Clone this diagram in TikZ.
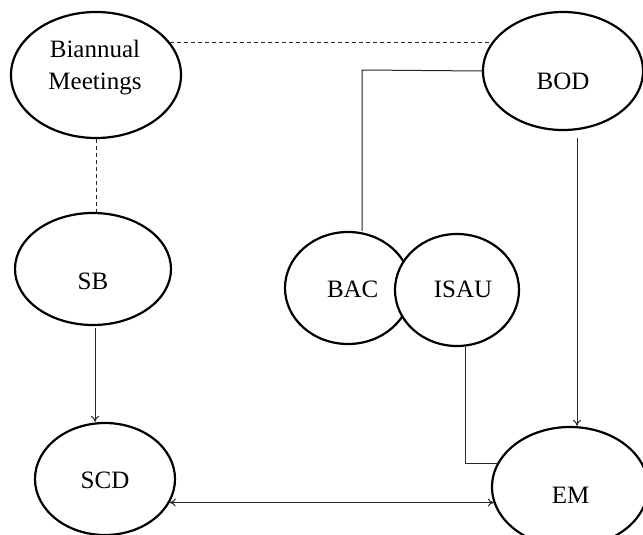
\documentclass[tikz,border=0pt]{standalone}
\usepackage{fontspec}
\setmainfont{Liberation Serif}
\usetikzlibrary{arrows.meta,shapes.geometric}
\begin{document}
\begin{tikzpicture}[x=1pt,y=-1pt,
  ell/.style={ellipse,draw=black,line width=2.2pt,fill=white,inner sep=0pt},
  lbl/.style={font=\fontsize{25}{32}\selectfont,inner sep=0pt,align=center},
  conn/.style={draw=black!85,line width=1pt},
  tip/.style={-{To[length=6pt,width=8pt]}},
  tips/.style={{To[length=6pt,width=8pt]}-{To[length=6pt,width=8pt]}}]
\useasboundingbox[fill=white] (0,0) rectangle (643,535);
% ellipses
\node[ell,minimum width=170pt,minimum height=126pt] (bm) at (96,75) {};
\node[ell,minimum width=160pt,minimum height=118pt] (bod) at (563,71) {};
\node[ell,minimum width=156pt,minimum height=112pt] (sb) at (93,269) {};
\node[ell,minimum width=126pt,minimum height=112pt] (bac) at (348,288) {};
\node[ell,minimum width=124pt,minimum height=112pt] (isau) at (457,290) {};
\node[ell,minimum width=140pt,minimum height=112pt] (scd) at (105,479) {};
\node[ell,minimum width=156pt,minimum height=120pt] (em) at (570,487) {};
% texts
\node[lbl] (bmt) at (95,68) {Biannual\\Meetings};
\node[lbl] (bodt) at (563,81.5) {BOD};
\node[lbl] (sbt) at (93,281) {SB};
\node[lbl] (bact) at (352.7,289.5) {BAC};
\node[lbl] (isaut) at (463,289.5) {ISAU};
\node[lbl] (scdt) at (105,480.5) {SCD};
\node[lbl] (emt) at (570.5,495.5) {EM};
% helper coordinates
\coordinate (k1) at (362,70);
\coordinate (k2) at (577,138);
\coordinate (k3) at (465,463);
\coordinate (k4) at (95,328);
% connectors
\draw[conn,dashed,dash pattern=on 4pt off 3pt] (bm.24) -- (bm.24 -| bod.158);
\draw[conn,dashed,dash pattern=on 4pt off 3pt] (bm.south) -- (bm.south |- sb.north);
\draw[conn,tip] (k4) -- (k4 |- scd.north);
\draw[conn] (bod.west) -- (k1) -- (k1 |- bac.north);
\draw[conn,tip] (k2) -- (k2 |- em.north);
\draw[conn] (k3 |- isau.south) -- (k3) -- (k3 -| em.161);
\draw[conn,tips] (scd.-20) -- (scd.-20 -| em.192);
\end{tikzpicture}
\end{document}
